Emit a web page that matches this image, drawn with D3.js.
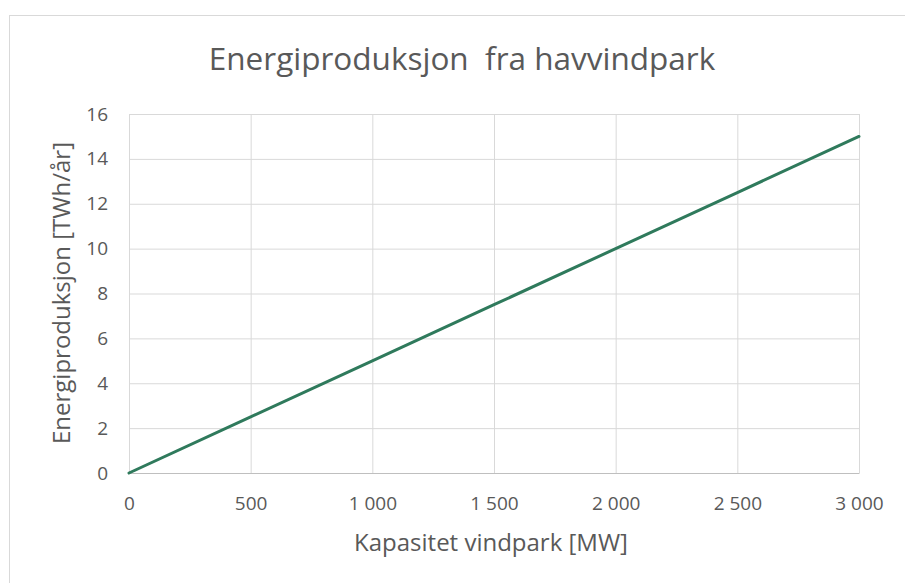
<!DOCTYPE html>
<html lang="no">
<head>
    <meta charset="UTF-8">
    <title>Energiproduksjon fra havvindpark</title>
    <script src="https://d3js.org/d3.v7.min.js"></script>
    <style>
        body { margin: 0; background: #fff; }
        text { font-family: "Open Sans", "Noto Sans", sans-serif; fill: #595959; }
    </style>
</head>
<body>
<svg id="chart" width="905" height="583"></svg>

<script>
    // data
    const capacity = [0, 500, 1000, 1500, 2000, 2500, 3000];          // MW
    const production = [0, 2.5, 5, 7.5, 10, 12.5, 15];                // TWh/år
    const xTicks = [0, 500, 1000, 1500, 2000, 2500, 3000];
    const yTicks = [0, 2, 4, 6, 8, 10, 12, 14, 16];
    const TITLE = 'Energiproduksjon  fra havvindpark';
    const X_TITLE = 'Kapasitet vindpark [MW]';
    const Y_TITLE = 'Energiproduksjon [TWh/år]';

    const LINE_COLOR = '#2f7a5c';
    const GRID_COLOR = '#d9d9d9';
    const svg = d3.select('#chart');

    const plot = {left: 129, right: 859, top: 114, bottom: 473};

    // outer frame (right and bottom edges run off the picture)
    svg.append('rect')
        .attr('x', 9.5).attr('y', 15.5)
        .attr('width', 920).attr('height', 600)
        .attr('fill', 'none')
        .attr('stroke', '#d9d9d9')
        .attr('stroke-width', 1);

    const xScale = d3.scaleLinear().domain([0, 3000]).range([plot.left, plot.right]);
    const yScale = d3.scaleLinear().domain([0, 16]).range([plot.bottom, plot.top]);

    const fmt = (d) => d3.format(',')(d).replace(',', ' ');

    // gridlines
    svg.append('g')
        .attr('transform', `translate(0, ${plot.bottom})`)
        .call(d3.axisBottom(xScale).tickValues(xTicks).tickSize(-(plot.bottom - plot.top)).tickFormat(''))
        .call(g => g.select('.domain').remove())
        .call(g => g.selectAll('line').attr('stroke', GRID_COLOR));

    svg.append('g')
        .attr('transform', `translate(${plot.left}, 0)`)
        .call(d3.axisLeft(yScale).tickValues(yTicks).tickSize(-(plot.right - plot.left)).tickFormat(''))
        .call(g => g.select('.domain').remove())
        .call(g => g.selectAll('line').attr('stroke', GRID_COLOR));

    // x axis baseline + labels
    const xAxis = svg.append('g')
        .attr('transform', `translate(0, ${plot.bottom})`)
        .call(d3.axisBottom(xScale).tickValues(xTicks).tickSize(0).tickPadding(24).tickFormat(fmt));
    xAxis.select('.domain').attr('stroke', '#bfbfbf');
    xAxis.selectAll('text')
        .style('font-size', '19px')
        .attr('fill', '#595959');

    const yAxis = svg.append('g')
        .attr('transform', `translate(${plot.left}, 0)`)
        .call(d3.axisLeft(yScale).tickValues(yTicks).tickSize(0).tickPadding(21));
    yAxis.select('.domain').remove();
    yAxis.selectAll('text')
        .style('font-size', '19px')
        .attr('fill', '#595959');

    // the series
    const series = capacity.map((c, i) => ({x: c, y: production[i]}));
    svg.append('path')
        .datum(series)
        .attr('fill', 'none')
        .attr('stroke', LINE_COLOR)
        .attr('stroke-width', 3)
        .attr('stroke-linecap', 'round')
        .attr('d', d3.line().x(d => xScale(d.x)).y(d => yScale(d.y)));

    // titles
    svg.append('text')
        .attr('x', 462).attr('y', 70)
        .attr('text-anchor', 'middle')
        .style('white-space', 'pre')
        .style('font-size', '31.5px')
        .text(TITLE);

    svg.append('text')
        .attr('x', 491).attr('y', 551)
        .attr('text-anchor', 'middle')
        .style('font-size', '24px')
        .text(X_TITLE);

    svg.append('text')
        .attr('transform', 'translate(70, 293) rotate(-90)')
        .attr('text-anchor', 'middle')
        .style('font-size', '24px')
        .text(Y_TITLE);
</script>
</body>
</html>
